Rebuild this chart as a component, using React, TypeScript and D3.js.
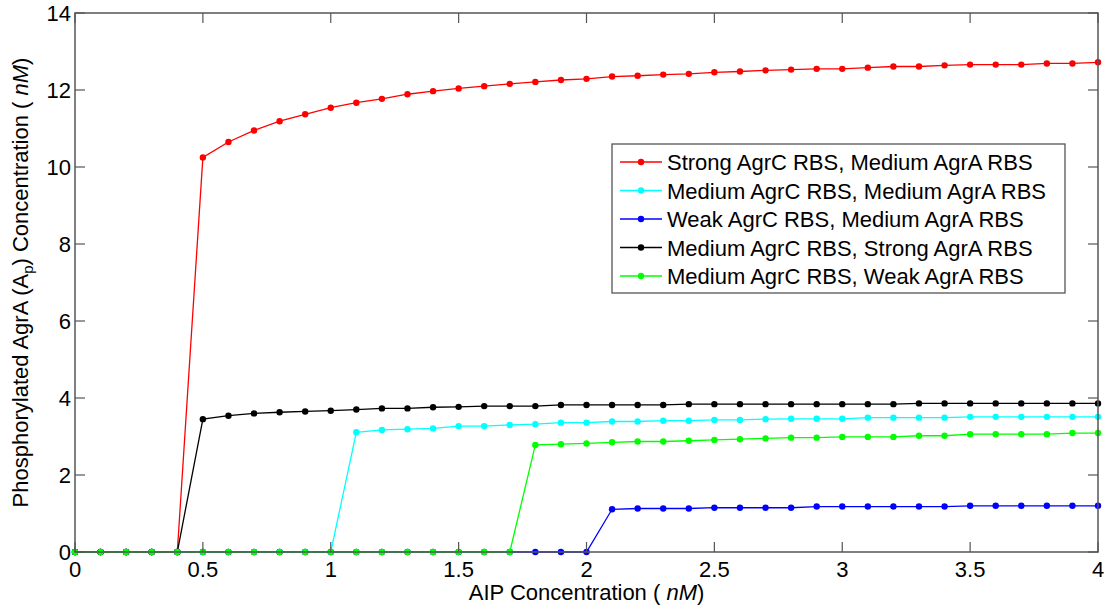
import React from "react";
import * as d3 from "d3";

const xValues = [0, 0.1, 0.2, 0.3, 0.4, 0.5, 0.6, 0.7, 0.8, 0.9, 1.0, 1.1, 1.2, 1.3, 1.4, 1.5, 1.6, 1.7, 1.8, 1.9, 2.0, 2.1, 2.2, 2.3, 2.4, 2.5, 2.6, 2.7, 2.8, 2.9, 3.0, 3.1, 3.2, 3.3, 3.4, 3.5, 3.6, 3.7, 3.8, 3.9, 4.0];

const strongC_mediumA = [0, 0, 0, 0, 0, 10.25, 10.65, 10.95, 11.19, 11.37, 11.54, 11.67, 11.77, 11.89, 11.97, 12.04, 12.10, 12.16, 12.21, 12.26, 12.29, 12.35, 12.37, 12.40, 12.42, 12.46, 12.48, 12.51, 12.53, 12.55, 12.55, 12.58, 12.61, 12.61, 12.64, 12.66, 12.66, 12.66, 12.69, 12.69, 12.72];
const mediumC_mediumA = [0, 0, 0, 0, 0, 0, 0, 0, 0, 0, 0, 3.11, 3.17, 3.19, 3.21, 3.27, 3.27, 3.30, 3.32, 3.36, 3.36, 3.39, 3.39, 3.41, 3.41, 3.43, 3.43, 3.45, 3.46, 3.46, 3.46, 3.49, 3.49, 3.49, 3.49, 3.51, 3.51, 3.51, 3.51, 3.51, 3.51];
const weakC_mediumA = [0, 0, 0, 0, 0, 0, 0, 0, 0, 0, 0, 0, 0, 0, 0, 0, 0, 0, 0, 0, 0, 1.11, 1.13, 1.13, 1.13, 1.15, 1.15, 1.15, 1.15, 1.18, 1.18, 1.18, 1.18, 1.18, 1.18, 1.20, 1.20, 1.20, 1.20, 1.20, 1.20];
const mediumC_strongA = [0, 0, 0, 0, 0, 3.45, 3.54, 3.60, 3.63, 3.65, 3.67, 3.70, 3.73, 3.73, 3.76, 3.77, 3.79, 3.79, 3.79, 3.82, 3.82, 3.82, 3.82, 3.82, 3.84, 3.84, 3.84, 3.84, 3.84, 3.84, 3.84, 3.84, 3.84, 3.86, 3.86, 3.86, 3.86, 3.86, 3.86, 3.86, 3.86];
const mediumC_weakA = [0, 0, 0, 0, 0, 0, 0, 0, 0, 0, 0, 0, 0, 0, 0, 0, 0, 0, 2.78, 2.80, 2.82, 2.85, 2.87, 2.87, 2.89, 2.91, 2.93, 2.95, 2.97, 2.97, 2.99, 2.99, 2.99, 3.02, 3.02, 3.06, 3.06, 3.06, 3.06, 3.09, 3.09];

const seriesNames = [
  "Strong AgrC RBS, Medium AgrA RBS",
  "Medium AgrC RBS, Medium AgrA RBS",
  "Weak AgrC RBS, Medium AgrA RBS",
  "Medium AgrC RBS, Strong AgrA RBS",
  "Medium AgrC RBS, Weak AgrA RBS",
];
const seriesColors = ["#ff0000", "#00ffff", "#0000ff", "#000000", "#00ff00"];
const seriesValues = [strongC_mediumA, mediumC_mediumA, weakC_mediumA, mediumC_strongA, mediumC_weakA];

const xTicks = [0, 0.5, 1, 1.5, 2, 2.5, 3, 3.5, 4];
const xTickLabels = ["0", "0.5", "1", "1.5", "2", "2.5", "3", "3.5", "4"];
const yTicks = [0, 2, 4, 6, 8, 10, 12, 14];
const yTickLabels = ["0", "2", "4", "6", "8", "10", "12", "14"];

const W = 1106;
const H = 610;
const L = 75, R = 1098, T = 13, B = 552;
const FONT = "'Liberation Sans', Arial, sans-serif";
const FS = 22;

export default function App() {
  const x = d3.scaleLinear().domain([0, 4]).range([L, R]);
  const y = d3.scaleLinear().domain([0, 14]).range([B, T]);
  const line = d3
    .line<[number, number]>()
    .x((d) => x(d[0]))
    .y((d) => y(d[1]));

  const tickLen = 10;
  const axisColor = "#555";

  const legX = 612, legY = 144, legW = 453, legH = 149;
  const rowY0 = 162, rowStep = 28.5;

  return (
    <svg
      width={W}
      height={H}
      style={{ position: "absolute", left: 0, top: 0, background: "#fff" }}
      fontFamily={FONT}
    >
      <rect x={0} y={0} width={W} height={H} fill="#fff" />
      {seriesValues.map((vals, si) => {
        const pts: [number, number][] = xValues.map((xv, i) => [xv, vals[i]]);
        return (
          <g key={si}>
            <path d={line(pts) || ""} fill="none" stroke={seriesColors[si]} strokeWidth={1.3} />
            {pts.map((p, i) => (
              <circle key={i} cx={x(p[0])} cy={y(p[1])} r={3.2} fill={seriesColors[si]} />
            ))}
          </g>
        );
      })}
      <rect x={L} y={T} width={R - L} height={B - T} fill="none" stroke={axisColor} strokeWidth={1.5} />
      {xTicks.map((t, i) => (
        <g key={"xt" + i}>
          <line x1={x(t)} x2={x(t)} y1={B} y2={B - tickLen} stroke={axisColor} strokeWidth={1.2} />
          <line x1={x(t)} x2={x(t)} y1={T} y2={T + tickLen} stroke={axisColor} strokeWidth={1.2} />
          <text x={x(t)} y={576.5} fontSize={FS} textAnchor="middle" fill="#000">
            {xTickLabels[i]}
          </text>
        </g>
      ))}
      {yTicks.map((t, i) => (
        <g key={"yt" + i}>
          <line x1={L} x2={L + tickLen} y1={y(t)} y2={y(t)} stroke={axisColor} strokeWidth={1.2} />
          <line x1={R} x2={R - tickLen} y1={y(t)} y2={y(t)} stroke={axisColor} strokeWidth={1.2} />
          <text x={71} y={y(t) + 8} fontSize={FS} textAnchor="end" fill="#000">
            {yTickLabels[i]}
          </text>
        </g>
      ))}
      <text x={(L + R) / 2} y={600} fontSize={FS} textAnchor="middle" fill="#000">
        AIP Concentration ( <tspan fontStyle="italic">nM</tspan>)
      </text>
      <text
        transform={`translate(28, ${(T + B) / 2}) rotate(-90)`}
        fontSize={FS}
        textAnchor="middle"
        fill="#000"
      >
        Phosphorylated AgrA (A<tspan fontSize={15} dy={5}>p</tspan>
        <tspan dy={-5}>) Concentration ( </tspan>
        <tspan fontStyle="italic">nM</tspan>)
      </text>
      <rect x={legX} y={legY} width={legW} height={legH} fill="#fff" stroke={axisColor} strokeWidth={1.3} />
      {seriesNames.map((name, i) => {
        const cy = rowY0 + i * rowStep;
        return (
          <g key={"lg" + i}>
            <line x1={620} x2={662} y1={cy} y2={cy} stroke={seriesColors[i]} strokeWidth={1.3} />
            <circle cx={641} cy={cy} r={3.2} fill={seriesColors[i]} />
            <text x={667} y={cy + 8} fontSize={FS} fill="#000">
              {name}
            </text>
          </g>
        );
      })}
    </svg>
  );
}
